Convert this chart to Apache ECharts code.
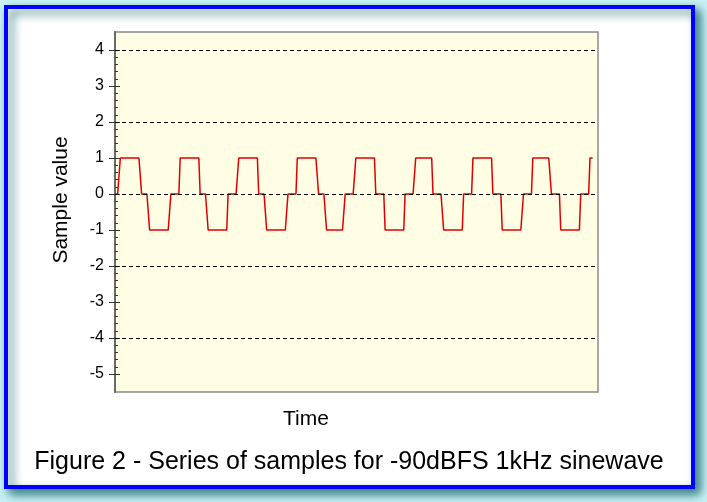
<!DOCTYPE html>
<html>
<head>
<meta charset="utf-8">
<script src="https://cdn.jsdelivr.net/npm/echarts@6/dist/echarts.min.js"></script>
<style>
  html, body { margin: 0; padding: 0; background: #c9f1f4; }
  #chart { width: 707px; height: 502px; }
</style>
</head>
<body>
<div id="chart"></div>
<script>
// ---- Data ----
// Signal levels (LSB) as consecutive runs of samples, and how many samples each run lasts
const runLevels  = [0, 1, 0, -1, 0, 1, 0, -1, 0, 1, 0, -1, 0, 1, 0, -1, 0,
                    1, 0, -1, 0, 1, 0, -1, 0, 1, 0, -1, 0, 1, 0, -1, 0, 1];
const runLengths = [4, 16, 6, 16, 7, 15, 6, 15, 8, 15, 6, 16, 7, 16, 6, 14, 8,
                    15, 7, 15, 8, 13, 8, 15, 7, 15, 7, 16, 7, 14, 7, 15, 7, 3];
const yTicks = [4, 3, 2, 1, 0, -1, -2, -3, -4, -5];
const dashedLevels = [4, 2, 0, -2, -4];
const yRange = [-5.5, 4.5];
const xRange = [0, 363];
const texts = {
  yName: 'Sample value',
  xName: 'Time',
  caption: 'Figure 2 - Series of samples for -90dBFS 1kHz sinewave'
};

// decode runs into a series of samples
const samples = [];
runLevels.forEach((lv, i) => { for (let k = 0; k < runLengths[i]; k++) samples.push(lv); });
const seriesData = samples.map((v, i) => [i, v]);

// ---- Layout ----
const plotLeft = 115, plotTop = 32, plotW = 483, plotH = 360;
const pxPerUnit = plotH / (yRange[1] - yRange[0]);
const tickMax = Math.max(...yTicks), tickMin = Math.min(...yTicks);
const gridBTop = plotTop + (yRange[1] - tickMax) * pxPerUnit;
const gridBH = (tickMax - tickMin) * pxPerUnit;
const FONT = '"Liberation Sans", Arial, Helvetica, sans-serif';

const chart = echarts.init(document.getElementById('chart'), null, { renderer: 'canvas' });
chart.setOption({
  animation: false,
  backgroundColor: '#c9f1f4',
  graphic: [
    {
      type: 'rect', z: -10, silent: true,
      shape: { x: 6, y: 7, width: 687, height: 480 },
      style: {
        fill: '#ffffff', stroke: '#0000ff', lineWidth: 4,
        shadowBlur: 10, shadowOffsetX: 5, shadowOffsetY: 5, shadowColor: 'rgba(0,85,95,0.75)'
      }
    },
    {
      type: 'text', silent: true, x: 61, y: 200, rotation: Math.PI / 2,
      style: { text: texts.yName, font: '21px ' + FONT, fill: '#000', align: 'center', verticalAlign: 'middle' }
    },
    {
      type: 'text', silent: true, x: 306, y: 419,
      style: { text: texts.xName, font: '21px ' + FONT, fill: '#000', align: 'center', verticalAlign: 'middle' }
    },
    {
      type: 'text', silent: true, x: 349, y: 462,
      style: { text: texts.caption, font: '25px ' + FONT, fill: '#000', align: 'center', verticalAlign: 'middle' }
    }
  ],
  grid: [
    { left: plotLeft, top: plotTop, width: plotW, height: plotH, show: true,
      backgroundColor: '#fffde4', borderColor: '#8a8a8a', borderWidth: 1.5 },
    { left: plotLeft, top: gridBTop, width: plotW, height: gridBH, show: false }
  ],
  xAxis: [
    { type: 'value', gridIndex: 0, min: xRange[0], max: xRange[1], show: false },
    { type: 'value', gridIndex: 1, min: 0, max: 1, show: false }
  ],
  yAxis: [
    { type: 'value', gridIndex: 0, min: yRange[0], max: yRange[1], position: 'left',
      axisLine: { show: true, lineStyle: { color: '#6a6a6a', width: 2 } },
      axisTick: { show: false }, axisLabel: { show: false }, splitLine: { show: false } },
    { type: 'value', gridIndex: 1, min: tickMin, max: tickMax, interval: 1, position: 'left',
      axisLine: { show: false },
      axisTick: { show: true, inside: false, length: 6, lineStyle: { color: '#333', width: 1 } },
      axisLabel: { show: true, margin: 11, color: '#000', fontSize: 16, fontFamily: FONT },
      splitLine: { show: false } },
    { type: 'value', gridIndex: 1, min: tickMin, max: tickMax, interval: 1, position: 'left',
      axisLine: { show: false },
      axisTick: { show: true, inside: true, length: 5, lineStyle: { color: '#333', width: 1 } },
      minorTick: { show: true, splitNumber: 5, length: 3, lineStyle: { color: '#333', width: 1 } },
      axisLabel: { show: false }, splitLine: { show: false } }
  ],
  series: [
    {
      type: 'line', xAxisIndex: 0, yAxisIndex: 0, data: seriesData,
      showSymbol: false, symbol: 'none', silent: true,
      lineStyle: { color: '#e00000', width: 1.5 },
      markLine: {
        silent: true, symbol: 'none', label: { show: false },
        lineStyle: { color: '#000', type: [4, 3], width: 1 },
        data: dashedLevels.map(v => ({ yAxis: v }))
      }
    }
  ]
});
</script>
</body>
</html>
